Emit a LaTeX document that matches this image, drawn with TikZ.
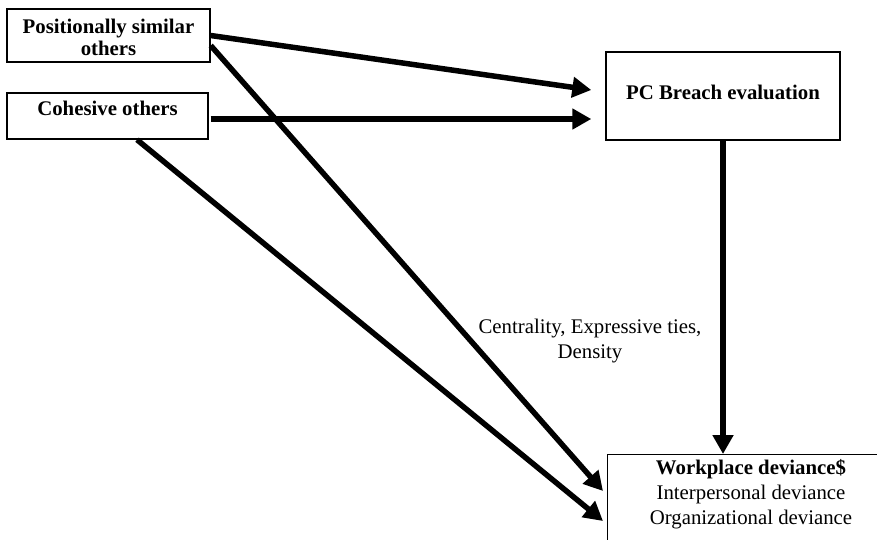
\documentclass[tikz,border=0pt]{standalone}
\usepackage{fontspec}
\setmainfont{Liberation Serif}
\usetikzlibrary{arrows.meta,calc}
\begin{document}
\begin{tikzpicture}[x=1pt,y=-1pt,
  box/.style={draw=black,line width=1.4pt,rectangle,inner sep=0pt,fill=white},
  txt/.style={inner sep=0pt,align=center,font=\fontsize{20.8}{24}\selectfont},
  conn/.style={line width=5.5pt,-{Triangle[length=19pt,width=20pt]}},
  plain/.style={line width=5.5pt}]
\useasboundingbox[fill=white] (0,0) rectangle (877,539);
% boxes
\node[box,minimum width=203pt,minimum height=53pt] (PS) at (108.5,35.5) {};
\node[box,minimum width=201pt,minimum height=46pt] (CO) at (107.5,116) {};
\node[box,minimum width=234pt,minimum height=88pt] (PC) at (723,96) {};
\begin{scope}
\clip (0,0) rectangle (877,539);
\node[box,anchor=north west,minimum width=320pt,minimum height=120pt] (WD) at (607,454) {};
\end{scope}
% texts
\node[txt,font=\fontsize{20.8}{22}\selectfont\bfseries] (PSt) at (108.5,37) {Positionally similar\\others};
\node[txt,font=\fontsize{20.8}{24}\selectfont\bfseries] (COt) at (107.5,108) {Cohesive others};
\node[txt,font=\fontsize{20.8}{24}\selectfont\bfseries] (PCt) at (723,92) {PC Breach evaluation};
\node[txt,font=\fontsize{20.8}{25}\selectfont] (WDt) at (751,494) {\textbf{Workplace deviance\$}\\Interpersonal deviance\\Organizational deviance};
\node[txt,font=\fontsize{20.8}{25}\selectfont] (lab) at (590,341) {Centrality, Expressive ties,\\Density};
% connectors
\draw[conn] (PS.east) -- ($(PC.west)+(-14,-6)$);
\draw[conn] ($(CO.east)+(2,3)$) -- ($(PC.west)+(-14,23)$);
\draw[conn] ($(PS.east)+(0,10)$) -- ($(WD.north west)+(-4,37)$);
\draw[conn] ($(CO.south)+(29.5,0)$) -- ($(WD.north west)+(-4,67)$);
\draw[conn] (PC.south) -- (PC.south |- WD.north);
\end{tikzpicture}
\end{document}
